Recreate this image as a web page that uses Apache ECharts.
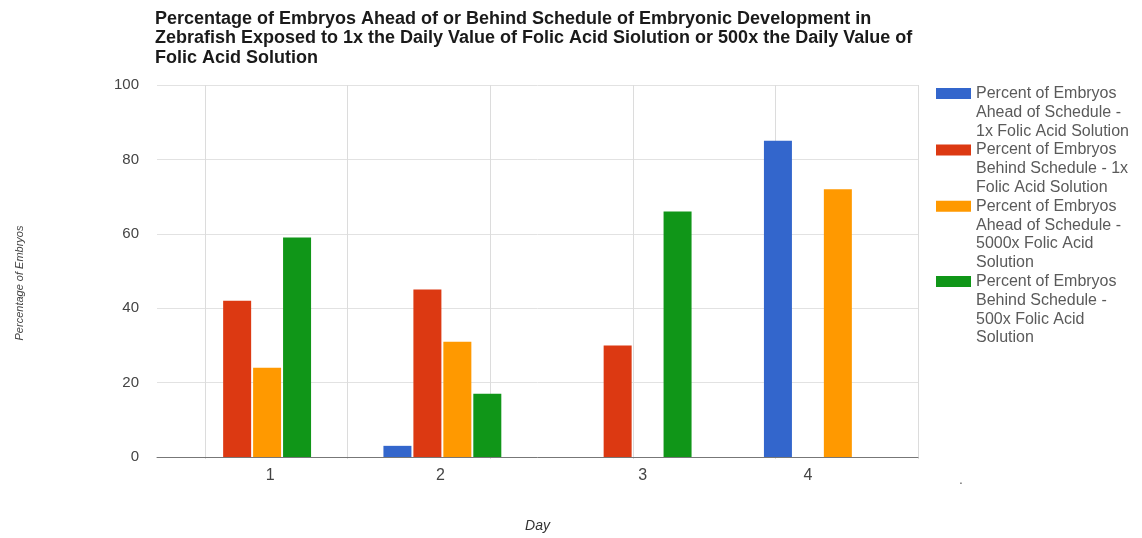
<!DOCTYPE html>
<html>
<head>
<meta charset="utf-8">
<script src="https://cdn.jsdelivr.net/npm/echarts@6/dist/echarts.min.js"></script>
<style>html,body{margin:0;padding:0;background:#fff;}#chart{width:1142px;height:538px;}</style>
</head>
<body>
<div id="chart"></div>
<script>
// ---- data ----
const days = ['1', '2', '3', '4'];
const seriesNames = [
  'Percent of Embryos Ahead of Schedule - 1x Folic Acid Solution',
  'Percent of Embryos Behind Schedule - 1x Folic Acid Solution',
  'Percent of Embryos Ahead of Schedule - 5000x Folic Acid Solution',
  'Percent of Embryos Behind Schedule - 500x Folic Acid Solution'
];
const legendLines = [
  ['Percent of Embryos', 'Ahead of Schedule -', '1x Folic Acid Solution'],
  ['Percent of Embryos', 'Behind Schedule - 1x', 'Folic Acid Solution'],
  ['Percent of Embryos', 'Ahead of Schedule -', '5000x Folic Acid', 'Solution'],
  ['Percent of Embryos', 'Behind Schedule -', '500x Folic Acid', 'Solution']
];
const aheadLow = [0, 3, 0, 85];
const behindLow = [42, 45, 30, 0];
const aheadHigh = [24, 31, 0, 72];
const behindHigh = [59, 17, 66, 0];
const yTicks = [0, 20, 40, 60, 80, 100];
const titleLines = [
  'Percentage of Embryos Ahead of or Behind Schedule of Embryonic Development in',
  'Zebrafish Exposed to 1x the Daily Value of Folic Acid Siolution or 500x the Daily Value of',
  'Folic Acid Solution'
];
const xTitle = 'Day';
const yTitle = 'Percentage of Embryos';

// ---- layout helpers ----
const colors = ['#3366cc', '#dc3912', '#ff9900', '#109618'];
const FONT = '"Liberation Sans", Arial, sans-serif';
const LH = 18.8;
const padBefore = [3, 2, 3, 3];
const padAfter = [1, 0, 0, 0];
const labelShift = [18, -2, 10, -15];

const values = [aheadLow, behindLow, aheadHigh, behindHigh];
const chart = echarts.init(document.getElementById('chart'), null, {renderer: 'canvas'});

const rich = {};
labelShift.forEach((s, i) => {
  rich['l' + i] = {
    fontSize: 16, color: '#444', fontFamily: FONT,
    padding: s >= 0 ? [0, 0, 0, 2 * s] : [0, -2 * s, 0, 0]
  };
});

const option = {
  backgroundColor: '#fff',
  animation: false,
  title: [
    {
      text: titleLines.join('\n'),
      left: 150, top: 4,
      textStyle: {fontFamily: FONT, fontSize: 18, fontWeight: 'bold', color: '#1a1a1a', lineHeight: 19.5}
    },
    {
      text: '.', left: 954, top: 468,
      textStyle: {fontFamily: FONT, fontSize: 14, fontWeight: 'normal', color: '#666'}
    }
  ],
  legend: {
    orient: 'vertical',
    left: 936,
    top: 93.5 - 3.5 * LH,
    padding: 0,
    itemWidth: 35,
    itemHeight: 11,
    itemGap: -3 * LH,
    icon: 'rect',
    selectedMode: false,
    data: seriesNames,
    formatter: function (name) {
      const i = seriesNames.indexOf(name);
      const before = new Array(padBefore[i]).fill('');
      const after = new Array(padAfter[i]).fill('');
      return before.concat(legendLines[i], after).join('\n');
    },
    textStyle: {fontFamily: FONT, fontSize: 16, color: '#5a5a5a', lineHeight: LH}
  },
  grid: [
    {left: 157, right: 224, top: 85, bottom: 79, containLabel: false},
    {left: 205, right: 224, top: 85, bottom: 79, containLabel: false}
  ],
  xAxis: [
    {
      type: 'category',
      gridIndex: 0,
      data: days,
      axisTick: {show: false},
      axisLine: {lineStyle: {color: '#777', width: 1}},
      axisLabel: {
        margin: 11,
        formatter: function (v, idx) { return '{l' + idx + '|' + v + '}'; },
        rich: rich
      },
      splitLine: {show: false},
      name: xTitle,
      nameLocation: 'middle',
      nameGap: 62,
      nameTextStyle: {fontFamily: FONT, fontSize: 14, fontStyle: 'italic', color: '#333'}
    },
    {
      type: 'value',
      gridIndex: 1,
      min: 0, max: 5, interval: 1,
      axisLine: {show: false},
      axisTick: {show: false},
      axisLabel: {show: false},
      splitLine: {show: true, lineStyle: {color: '#dcdcdc', width: 1}}
    }
  ],
  yAxis: [
    {
      type: 'value',
      gridIndex: 0,
      min: yTicks[0], max: yTicks[yTicks.length - 1], interval: yTicks[1] - yTicks[0],
      axisLine: {show: false},
      axisTick: {show: false},
      axisLabel: {margin: 18, fontFamily: FONT, fontSize: 15, color: '#444'},
      splitLine: {lineStyle: {color: '#e2e2e2', width: 1}},
      name: yTitle,
      nameLocation: 'middle',
      nameRotate: 90,
      nameGap: 132,
      nameTextStyle: {fontFamily: FONT, fontSize: 11, fontStyle: 'italic', color: '#444', padding: [0, 24, 0, 0]}
    },
    {
      type: 'value',
      gridIndex: 1,
      min: 0, max: 100,
      show: false,
      splitLine: {show: false}
    }
  ],
  series: seriesNames.map((n, i) => ({
    name: n,
    type: 'bar',
    xAxisIndex: 0,
    yAxisIndex: 0,
    data: values[i],
    barWidth: 28,
    barGap: '7%',
    itemStyle: {color: colors[i]}
  }))
};
chart.setOption(option);
</script>
</body>
</html>
